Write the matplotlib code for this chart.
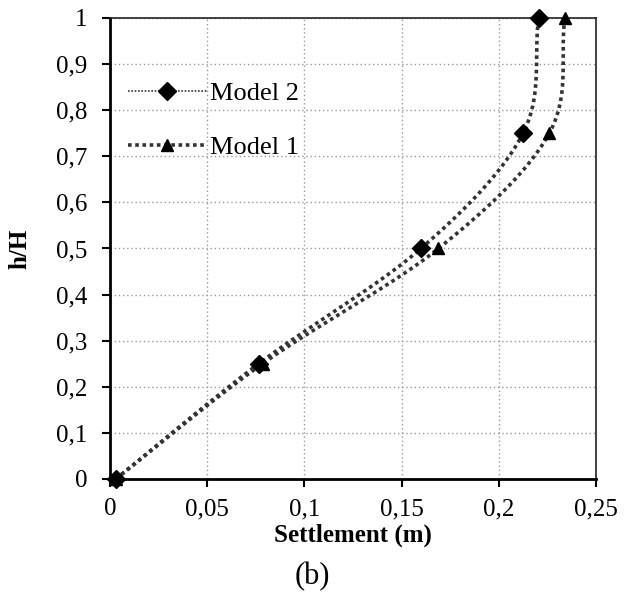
import numpy as np
import matplotlib
matplotlib.use("Agg")
import matplotlib.pyplot as plt
from matplotlib.ticker import FuncFormatter

# ── data ─────────────────────────────────────────────────────────────────────
h_ratio = [0.0, 0.25, 0.5, 0.75, 1.0]
settle_model2 = [0.003, 0.0765, 0.160, 0.2125, 0.2205]
settle_model1 = [0.003, 0.0785, 0.169, 0.226, 0.234]

x_ticks = [0, 0.05, 0.1, 0.15, 0.2, 0.25]
y_ticks = [0, 0.1, 0.2, 0.3, 0.4, 0.5, 0.6, 0.7, 0.8, 0.9, 1.0]


def smooth(xs, ys, n=40):
    """Catmull-Rom curve through the points (like a spreadsheet 'smoothed line')."""
    p = np.column_stack([xs, ys]).astype(float)
    p = np.vstack([2 * p[0] - p[1], p, 2 * p[-1] - p[-2]])
    t = np.linspace(0, 1, n)[:, None]
    segs = []
    for i in range(1, len(p) - 2):
        p0, p1, p2, p3 = p[i - 1], p[i], p[i + 1], p[i + 2]
        seg = 0.5 * ((2 * p1) + (-p0 + p2) * t
                     + (2 * p0 - 5 * p1 + 4 * p2 - p3) * t**2
                     + (-p0 + 3 * p1 - 3 * p2 + p3) * t**3)
        segs.append(seg)
    c = np.vstack(segs)
    return c[:, 0], c[:, 1]


def comma(v, pos):
    s = f"{v:.2f}".rstrip("0").rstrip(".")
    return s.replace(".", ",")


plt.rcParams["font.family"] = ["Liberation Serif", "DejaVu Serif"]

fig = plt.figure(figsize=(6.28, 5.98), dpi=100)
ax = fig.add_axes([0.175, 0.199, 0.774, 0.771])

lc = "#333333"
for xs, mk, ms in [(settle_model2, "D", 9), (settle_model1, "^", 9)]:
    cx, cy = smooth(xs, h_ratio)
    ax.plot(cx, cy, ls=(0, (1, 1)), lw=2.6, color=lc, zorder=3)
    ax.plot(xs, h_ratio, ls="none", marker=mk, ms=ms, color="black",
            zorder=4, clip_on=False)

# legend handles
h2, = ax.plot([], [], ls=(0, (1, 1)), lw=1.2, color=lc, marker="D", ms=9,
              markerfacecolor="black", markeredgecolor="black")
h1, = ax.plot([], [], ls=(0, (1, 1)), lw=2.6, color=lc, marker="^", ms=9,
              markerfacecolor="black", markeredgecolor="black")
ax.legend([h2, h1], ["Model 2", "Model 1"], loc="upper left",
          bbox_to_anchor=(0.015, 0.885), frameon=False, fontsize=19,
          handlelength=3.0, labelspacing=1.15, handletextpad=0.1,
          borderaxespad=0.0)

ax.set_xlim(0, 0.25)
ax.set_ylim(0, 1)
ax.set_xticks(x_ticks)
ax.set_yticks(y_ticks)
ax.xaxis.set_major_formatter(FuncFormatter(comma))
ax.yaxis.set_major_formatter(FuncFormatter(comma))
ax.tick_params(axis="both", direction="out", length=6, width=1.5,
               labelsize=18, colors="black")
ax.tick_params(axis="x", pad=8)
ax.tick_params(axis="y", pad=10)

ax.grid(True, ls=(0, (1, 2)), color="#999999", lw=1)
ax.set_axisbelow(True)
for side in ["left", "bottom"]:
    ax.spines[side].set_linewidth(2)
for side in ["top", "right"]:
    ax.spines[side].set_linewidth(1.2)
    ax.spines[side].set_color("#222222")

ax.set_xlabel("Settlement (m)", fontsize=18, fontweight="bold", labelpad=2)
ax.set_ylabel("h/H", fontsize=18, fontweight="bold", labelpad=18)
fig.text(0.497, 0.012, "(b)", ha="center", va="bottom", fontsize=22)

fig.savefig("out.png", dpi=100)
